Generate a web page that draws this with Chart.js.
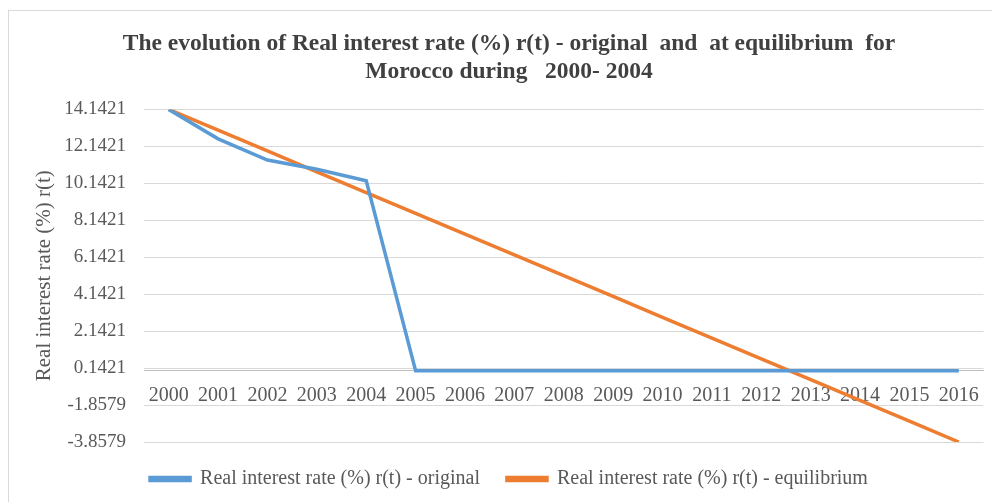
<!DOCTYPE html>
<html>
<head>
<meta charset="utf-8">
<script src="https://cdn.jsdelivr.net/npm/chart.js@4.4.0/dist/chart.umd.min.js"></script>
<style>
  html, body { margin: 0; padding: 0; background: #fff; }
  #wrap { position: relative; width: 992px; height: 502px; overflow: hidden; }
  #frame { position: absolute; left: 8px; top: 10px; width: 1000px; height: 520px; border: 1px solid #d9d9d9; box-sizing: border-box; }
  canvas { position: absolute; left: 0; top: 0; }
</style>
</head>
<body>
<div id="wrap">
  <div id="frame"></div>
  <canvas id="chart" width="992" height="502"></canvas>
</div>
<script>
const years = ['2000', '2001', '2002', '2003', '2004', '2005', '2006', '2007', '2008',
  '2009', '2010', '2011', '2012', '2013', '2014', '2015', '2016']
const original = [14.1421, 12.55, 11.4, 10.9, 10.28, 0, 0, 0, 0, 0, 0, 0, 0, 0, 0, 0, 0]
const equilibrium = [14.1421, 13.0171, 11.8921, 10.7671, 9.6421, 8.5171, 7.3921, 6.2671,
  5.1421, 4.0171, 2.8921, 1.7671, 0.6421, -0.4829, -1.6079, -2.7329, -3.8579]
const yTicks = [14.1421, 12.1421, 10.1421, 8.1421, 6.1421, 4.1421, 2.1421, 0.1421, -1.8579, -3.8579]

const serif = "'Liberation Serif', 'Times New Roman', serif"
const grey = '#595959'

const ctx = document.querySelector('#chart')

const chart = new Chart(ctx, {
  type: 'line',
  data: {
    labels: years,
    datasets: [{
      label: 'Real interest rate (%) r(t) - original',
      data: original,
      borderColor: '#5b9bd5',
      backgroundColor: '#5b9bd5',
      borderWidth: 3.5,
      pointRadius: 0,
      tension: 0,
    }, {
      label: 'Real interest rate (%) r(t) - equilibrium',
      data: equilibrium,
      borderColor: '#ed7d31',
      backgroundColor: '#ed7d31',
      borderWidth: 3.5,
      pointRadius: 0,
      tension: 0,
    }]
  },
  options: {
    responsive: false,
    animation: false,
    layout: {
      padding: { left: 32, right: 6, top: 0, bottom: 3 }
    },
    scales: {
      x: {
        position: { y: 0 },
        offset: true,
        grid: { display: false, drawTicks: false },
        border: { display: true, color: '#bfbfbf', width: 1 },
        ticks: {
          color: grey,
          padding: 13,
          maxRotation: 0,
          autoSkip: false,
          font: { family: serif, size: 20 },
        },
      },
      y: {
        min: -3.8579,
        max: 14.1421,
        afterBuildTicks: (scale) => {
          scale.ticks = yTicks.map((v) => ({ value: v }))
        },
        afterFit: (scale) => {
          scale.width = 112
        },
        grid: { color: '#d9d9d9', drawTicks: false },
        border: { display: false },
        ticks: {
          color: grey,
          padding: 18,
          font: { family: serif, size: 19 },
          callback: (v) => Number(v).toFixed(4),
        },
        title: {
          display: true,
          text: 'Real interest rate (%) r(t)',
          color: grey,
          padding: { top: 0, bottom: 0 },
          font: { family: serif, size: 21 },
        },
      }
    },
    plugins: {
      title: {
        display: true,
        text: ['The evolution of Real interest rate (%) r(t) - original  and  at equilibrium  for', 'Morocco during   2000- 2004'],
        color: '#404040',
        font: { family: serif, size: 23.5, weight: 'bold', lineHeight: 1.2 },
        padding: { top: 30, bottom: 23 },
      },
      legend: {
        position: 'bottom',
        labels: {
          color: grey,
          boxWidth: 40,
          boxHeight: 3,
          padding: 27,
          font: { family: serif, size: 20 },
        },
      },
      tooltip: { enabled: false },
    },
  },
})
</script>
</body>
</html>
